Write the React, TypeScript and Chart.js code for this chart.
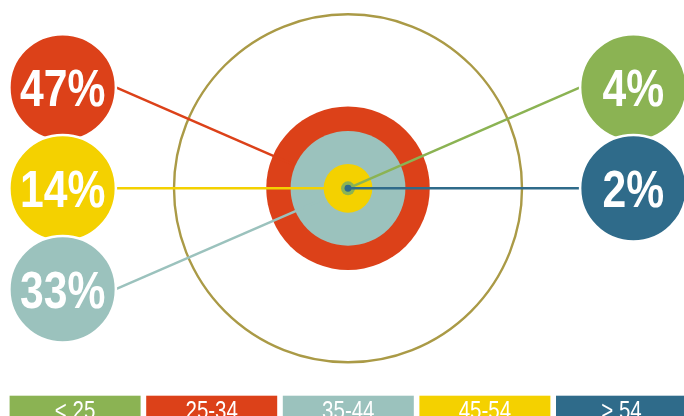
import React, { useEffect, useRef } from "react";
import { Chart, registerables } from "chart.js";
Chart.register(...registerables);

// ---- data ----
const categories = ["< 25", "25-34", "35-44", "45-54", "> 54"];
const shares = [4, 47, 33, 14, 2];
const percentLabels = ["4%", "47%", "33%", "14%", "2%"];
const colors = ["#8bb353", "#dc4119", "#9bc2bd", "#f4d100", "#2f6b8a"];

// ---- layout (not data) ----
const W = 684;
const H = 416;
const PX = 1.74; // pixels per percentage unit
const CX = 348;
const CY = 188.3;
const FULL = 100; // outer ring = 100%
const OLIVE = "#aa9a46";
const slotX = [164, -164, -164, -164, 164];
const slotY = [58, 58, -58, 0, 0];
const BUBBLE_R = 30.6;
const NARROW = 0.82;

const unitPx = (chart: any, u: number) =>
  Math.abs(chart.scales.x.getPixelForValue(u) - chart.scales.x.getPixelForValue(0));

function narrowText(ctx: CanvasRenderingContext2D, text: string, x: number, y: number) {
  ctx.save();
  ctx.translate(x, y);
  ctx.scale(NARROW, 1);
  ctx.fillText(text, 0, 0);
  ctx.restore();
}

export default function App() {
  const ref = useRef<HTMLCanvasElement>(null);
  useEffect(() => {
    document.body.style.margin = "0";
    const datasets: any[] = [];
    datasets.push({
      type: "scatter",
      data: [{ x: 0, y: 0 }],
      pointRadius: (c: any) => unitPx(c.chart, FULL),
      pointBackgroundColor: "rgba(0,0,0,0)",
      pointBorderColor: OLIVE,
      pointBorderWidth: 2.4,
    });
    const byShare = shares.map((_, i) => i).sort((a, b) => shares[b] - shares[a]);
    byShare.forEach((i) => {
      datasets.push({
        type: "scatter",
        data: [{ x: 0, y: 0 }],
        pointRadius: (c: any) => unitPx(c.chart, shares[i]),
        pointBackgroundColor: colors[i],
        pointBorderWidth: 0,
      });
      const sign = slotX[i] > 0 ? 1 : -1;
      datasets.push({
        type: "line",
        data: [
          { x: 0, y: 0 },
          { x: slotX[i] - sign * BUBBLE_R, y: slotY[i] },
        ],
        borderColor: colors[i],
        borderWidth: 2.5,
        pointRadius: 0,
        fill: false,
      });
    });
    const bubbleOrder = shares.map((_, i) => i).sort((a, b) => slotY[b] - slotY[a]);
    datasets.push({
      type: "scatter",
      data: bubbleOrder.map((i) => ({ x: slotX[i], y: slotY[i] })),
      pointRadius: (c: any) => unitPx(c.chart, BUBBLE_R),
      pointBackgroundColor: bubbleOrder.map((i) => colors[i]),
      pointBorderColor: "#ffffff",
      pointBorderWidth: 2.5,
    });
    const N = datasets.length;
    datasets.forEach((d, k) => (d.order = N - k));

    const labelPlugin = {
      id: "labels",
      afterDatasetsDraw(chart: any) {
        const ctx = chart.ctx;
        const meta = chart.getDatasetMeta(N - 1);
        ctx.save();
        ctx.fillStyle = "#ffffff";
        ctx.textAlign = "center";
        ctx.textBaseline = "alphabetic";
        const fs = 52;
        ctx.font = `bold ${fs}px "Liberation Sans", Arial, sans-serif`;
        meta.data.forEach((pt: any, j: number) => {
          const i = bubbleOrder[j];
          narrowText(ctx, percentLabels[i], pt.x, pt.y + fs * 0.358);
        });
        ctx.restore();
      },
      afterDraw(chart: any) {
        const ctx = chart.ctx;
        ctx.save();
        const top = 395.7;
        const bw = 131;
        const pitch = 136.6;
        const fs = 25;
        ctx.font = `${fs}px "Liberation Sans", Arial, sans-serif`;
        ctx.textAlign = "center";
        ctx.textBaseline = "alphabetic";
        categories.forEach((c, i) => {
          const x = 9.6 + i * pitch;
          ctx.fillStyle = colors[i];
          ctx.fillRect(x, top, bw, 30);
          ctx.fillStyle = "#ffffff";
          narrowText(ctx, c, x + bw / 2, 400.7 + fs * 0.716);
        });
        ctx.restore();
      },
    };

    const chart = new Chart(ref.current!, {
      type: "scatter",
      data: { datasets },
      options: {
        animation: false,
        responsive: false,
        events: [],
        layout: { padding: 0 },
        plugins: { legend: { display: false }, tooltip: { enabled: false } },
        scales: {
          x: { type: "linear", display: false, min: -CX / PX, max: (W - CX) / PX },
          y: { type: "linear", display: false, min: (CY - H) / PX, max: CY / PX },
        },
      },
      plugins: [labelPlugin],
    } as any);
    return () => chart.destroy();
  }, []);
  return (
    <div style={{ position: "absolute", left: 0, top: 0, width: W, height: H, background: "#fff" }}>
      <canvas ref={ref} width={W} height={H} style={{ display: "block" }} />
    </div>
  );
}
